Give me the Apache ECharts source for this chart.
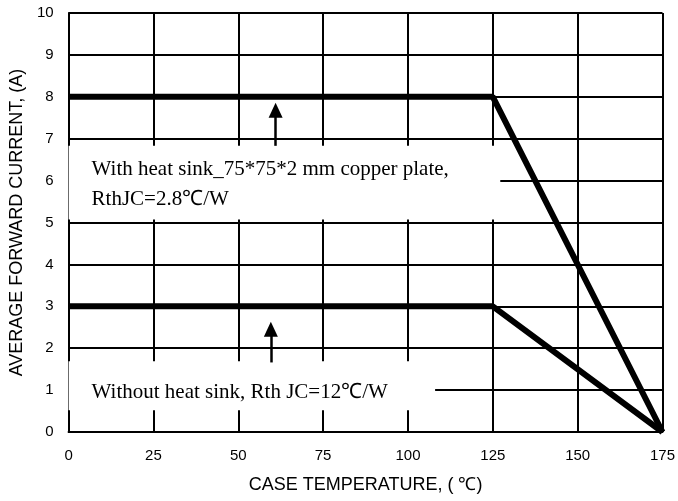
<!DOCTYPE html>
<html><head><meta charset="utf-8">
<script src="https://cdn.jsdelivr.net/npm/echarts@6/dist/echarts.min.js"></script>
<style>html,body{margin:0;padding:0;background:#fff}#c{width:678px;height:501px}</style>
</head><body><div id="c"></div>
<script>
// Data
const caseTemp = [0, 125, 175];
const withHeatSink = [8, 8, 0];
const withoutHeatSink = [3, 3, 0];
const xTicks = [0, 25, 50, 75, 100, 125, 150, 175];
const yTicks = [0, 1, 2, 3, 4, 5, 6, 7, 8, 9, 10];
// Annotations (data coordinates)
const box1 = [[0, 5.07], [127.2, 6.83]];
const box2 = [[0, 0.52], [108, 1.69]];
const box1Text = 'With heat sink_75*75*2 mm copper plate,\nRthJC=2.8℃/W';
const box2Text = 'Without heat sink, Rth JC=12℃/W';
const arrow1 = [[61, 6.83], [61, 7.68]];
const arrow2 = [[59.6, 1.66], [59.6, 2.45]];

const chart = echarts.init(document.getElementById('c'), null, {renderer: 'canvas'});
const serif = '"Liberation Serif", "Times New Roman", serif';
const sans = '"Liberation Sans", Arial, sans-serif';

function mkArea(b, text, offY) {
  return {
    silent: true,
    itemStyle: {color: '#fff', borderWidth: 0},
    label: {show: true, position: 'insideLeft', distance: 23, offset: [0, offY],
      formatter: text, fontFamily: serif, fontSize: 21, lineHeight: 30, color: '#000'},
    emphasis: {disabled: true},
    data: [[{coord: b[0]}, {coord: b[1]}]]
  };
}
function mkArrow(a) {
  return {
    silent: true,
    symbol: ['none', 'triangle'],
    symbolSize: [14, 15],
    label: {show: false},
    lineStyle: {color: '#000', width: 2.5, type: 'solid'},
    emphasis: {disabled: true},
    data: [[{coord: a[0]}, {coord: a[1]}]]
  };
}

chart.setOption({
  animation: false,
  backgroundColor: '#fff',
  grid: {left: 68, right: 14, top: 13, bottom: 69, containLabel: false},
  xAxis: {
    type: 'value', min: xTicks[0], max: xTicks[xTicks.length - 1], interval: 25,
    name: 'CASE TEMPERATURE, ( ℃)', nameLocation: 'middle', nameGap: 44,
    nameTextStyle: {fontFamily: sans, fontSize: 18, color: '#000'},
    axisLine: {show: true, lineStyle: {color: '#000', width: 2}},
    axisTick: {show: false},
    axisLabel: {fontFamily: sans, fontSize: 15, color: '#000', margin: 16},
    splitLine: {show: true, lineStyle: {color: '#000', width: 2}}
  },
  yAxis: {
    type: 'value', min: yTicks[0], max: yTicks[yTicks.length - 1], interval: 1,
    name: 'AVERAGE FORWARD CURRENT, (A)', nameLocation: 'middle', nameGap: 40,
    nameTextStyle: {fontFamily: sans, fontSize: 18, color: '#000'},
    axisLine: {show: true, lineStyle: {color: '#000', width: 2}},
    axisTick: {show: false},
    axisLabel: {fontFamily: sans, fontSize: 15, color: '#000', margin: 15},
    splitLine: {show: true, lineStyle: {color: '#000', width: 2}}
  },
  series: [
    {
      type: 'line', symbol: 'none', silent: true,
      data: caseTemp.map((x, i) => [x, withHeatSink[i]]),
      lineStyle: {color: '#000', width: 6},
      markArea: mkArea(box1, box1Text, 2),
      markLine: mkArrow(arrow1)
    },
    {
      type: 'line', symbol: 'none', silent: true,
      data: caseTemp.map((x, i) => [x, withoutHeatSink[i]]),
      lineStyle: {color: '#000', width: 6},
      markArea: mkArea(box2, box2Text, 7),
      markLine: mkArrow(arrow2)
    }
  ]
});
</script></body></html>
